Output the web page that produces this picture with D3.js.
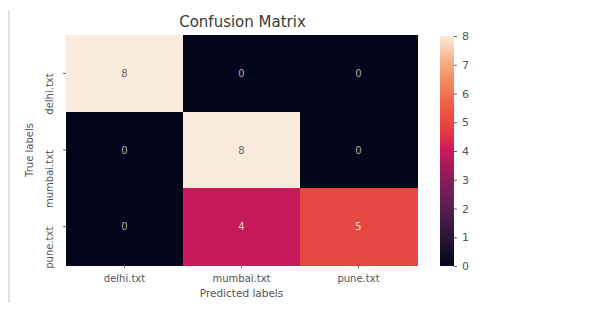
<!DOCTYPE html>
<html><head><meta charset="utf-8">
<script src="https://cdn.jsdelivr.net/npm/d3@7"></script>
<style>body{margin:0;background:#fff}svg{display:block}text{font-family:"DejaVu Sans",sans-serif}</style>
</head><body><svg id="c" width="609" height="320"></svg>
<script>
const trueLabels = ["delhi.txt", "mumbai.txt", "pune.txt"];
const predLabels = ["delhi.txt", "mumbai.txt", "pune.txt"];
const matrix = [
  [8, 0, 0],
  [0, 8, 0],
  [0, 4, 5]
];
const cbarTicks = [0, 1, 2, 3, 4, 5, 6, 7, 8];
const titleText = "Confusion Matrix";
const xTitle = "Predicted labels";
const yTitle = "True labels";

const svg = d3.select("#c");
const L = 66, R = 417, T = 35, B = 265;
const x = d3.scaleBand().domain(predLabels).range([L, R]);
const y = d3.scaleBand().domain(trueLabels).range([T, B]);
const rocketStops = ["#03051a","#221331","#451c47","#6a1f56","#921c5b","#c8195a","#e5403f","#ee5f45","#f3875e","#f6b48e","#faebdd"];
const color = d3.scaleLinear().domain(d3.range(rocketStops.length).map(i => i * 8 / (rocketStops.length - 1))).range(rocketStops).interpolate(d3.interpolateRgb);

// faint left border
svg.append("line").attr("x1", 9).attr("x2", 9).attr("y1", 10).attr("y2", 303).attr("stroke", "#e2e2e2").attr("stroke-width", 2);

const cells = [];
matrix.forEach((row, i) => row.forEach((v, j) => cells.push({r: trueLabels[i], c: predLabels[j], v})));
svg.selectAll("rect.cell").data(cells).join("rect").attr("class", "cell")
  .attr("x", d => x(d.c)).attr("y", d => y(d.r))
  .attr("width", x.bandwidth() + 0.5).attr("height", y.bandwidth() + 0.5)
  .attr("shape-rendering", "crispEdges")
  .attr("fill", d => color(d.v));
svg.selectAll("text.ann").data(cells).join("text").attr("class", "ann")
  .attr("x", d => x(d.c) + x.bandwidth() / 2).attr("y", d => y(d.r) + y.bandwidth() / 2)
  .attr("text-anchor", "middle").attr("dominant-baseline", "central")
  .attr("font-size", 10).attr("fill", d => d.v > 6 ? "#6b6560" : (d.v === 0 ? "#a9a9b5" : "#f4d8d8"))
  .text(d => d.v);

const gx = svg.append("g").attr("transform", `translate(0,${B})`)
  .call(d3.axisBottom(x).tickSize(3).tickPadding(7));
const gy = svg.append("g").attr("transform", `translate(${L},0)`)
  .call(d3.axisLeft(y).tickSize(3).tickPadding(4));
[gx, gy].forEach(g => {
  g.select(".domain").remove();
  g.selectAll(".tick line").attr("stroke", "#666");
  g.selectAll(".tick text").attr("fill", "#555").attr("font-size", 10).attr("font-family", "DejaVu Sans");
});
gy.selectAll(".tick text").attr("transform", "rotate(-90)").attr("text-anchor", "end")
  .attr("x", 0).attr("y", -13).attr("dy", "0");

svg.append("text").attr("x", (L + R) / 2 + 1).attr("y", 27).attr("text-anchor", "middle")
  .attr("font-size", 15).attr("fill", "#3a3a3a").text(titleText);
svg.append("text").attr("x", (L + R) / 2).attr("y", 297).attr("text-anchor", "middle")
  .attr("font-size", 10.5).attr("fill", "#555").text(xTitle);
svg.append("text").attr("transform", `translate(33,${(T + B) / 2}) rotate(-90)`).attr("text-anchor", "middle")
  .attr("font-size", 10).attr("fill", "#555").text(yTitle);

// colorbar
const cbX = 440, cbW = 14, cbT = 36, cbB = 266;
const cy = d3.scaleLinear().domain([0, 8]).range([cbB, cbT]);
const defs = svg.append("defs");
const grad = defs.append("linearGradient").attr("id", "g").attr("x1", 0).attr("y1", 1).attr("x2", 0).attr("y2", 0);
d3.range(0, 1.0001, 0.05).forEach(t => grad.append("stop").attr("offset", t).attr("stop-color", color(t * 8)));
svg.append("rect").attr("x", cbX).attr("y", cbT).attr("width", cbW).attr("height", cbB - cbT).attr("fill", "url(#g)");
const gc = svg.append("g").attr("transform", `translate(${cbX + cbW},0)`)
  .call(d3.axisRight(cy).tickValues(cbarTicks).tickFormat(d3.format("d")).tickSize(3).tickPadding(5));
gc.select(".domain").remove();
gc.selectAll(".tick line").attr("stroke", "#666");
gc.selectAll(".tick text").attr("fill", "#555").attr("font-size", 11).attr("font-family", "DejaVu Sans");
</script></body></html>
